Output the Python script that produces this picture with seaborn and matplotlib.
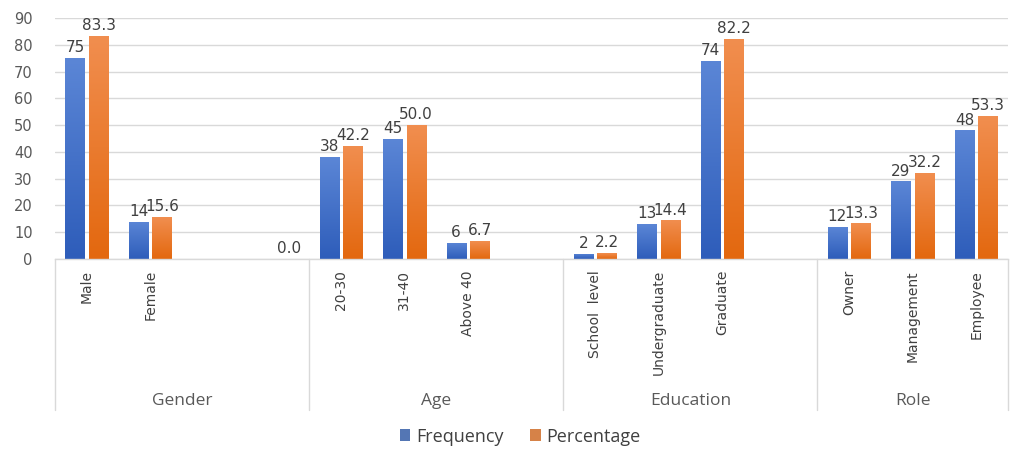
import numpy as np
import pandas as pd
import matplotlib
matplotlib.use("Agg")
import matplotlib.pyplot as plt
import seaborn as sns
from matplotlib.colors import LinearSegmentedColormap
from matplotlib.transforms import blended_transform_factory

# ---------------- data ----------------
slot_keys = ["Male", "Female", "_g1", "_g2",
             "20-30", "31-40", "Above 40", "_a1",
             "School level", "Undergraduate", "Graduate", "_e1",
             "Owner", "Management", "Employee"]
slot_labels = ["Male", "Female", "", "",
               "20-30", "31-40", "Above 40", "",
               "School  level", "Undergraduate", "Graduate", "",
               "Owner", "Management", "Employee"]
frequency = [75, 14, np.nan, np.nan, 38, 45, 6, np.nan, 2, 13, 74, np.nan, 12, 29, 48]
percentage = [83.3, 15.6, np.nan, 0.0, 42.2, 50.0, 6.7, np.nan, 2.2, 14.4, 82.2, np.nan, 13.3, 32.2, 53.3]
groups = ["Gender", "Age", "Education", "Role"]
group_sizes = [4, 4, 4, 3]
series = ["Frequency", "Percentage"]
yticks = [0, 10, 20, 30, 40, 50, 60, 70, 80, 90]

colors = {"Frequency": "#4472C4", "Percentage": "#ED7D31"}
grad_colors = {"Frequency": ("#2E5DBA", "#5B86D6"), "Percentage": ("#E3680F", "#F18E4F")}

df = pd.DataFrame({
    "slot": slot_keys * 2,
    "series": ["Frequency"] * len(slot_keys) + ["Percentage"] * len(slot_keys),
    "value": list(frequency) + list(percentage),
})
df["plotval"] = df["value"].fillna(0)

# ---------------- figure ----------------
sns.set_theme(style="white")
plt.rcParams["font.family"] = ["DejaVu Sans"]

fig = plt.figure(figsize=(10.14, 4.5), dpi=100)
ax = fig.add_axes([55 / 1014, 1 - 259 / 450, (1008 - 55) / 1014, (259 - 18) / 450])

sns.barplot(data=df, x="slot", y="plotval", hue="series", order=slot_keys,
            hue_order=series, palette=colors, width=0.74, gap=0.18,
            linewidth=0, ax=ax, legend=True, errorbar=None)

# gradient fill on bars
for cont, s in zip(ax.containers, series):
    cmap = LinearSegmentedColormap.from_list(s, grad_colors[s])
    grad = np.linspace(0, 1, 100).reshape(-1, 1)
    for bar in cont:
        h = bar.get_height()
        if h > 0:
            x0 = bar.get_x()
            im = ax.imshow(grad, extent=[x0, x0 + bar.get_width(), 0, h], origin="lower",
                           aspect="auto", cmap=cmap, zorder=bar.get_zorder() + 0.1,
                           interpolation="bilinear")
            im.set_clip_path(bar)

# data labels
vals = {"Frequency": frequency, "Percentage": percentage}
for cont, s in zip(ax.containers, series):
    labs = []
    for v in vals[s]:
        if np.isnan(v):
            labs.append("")
        elif s == "Frequency":
            labs.append(f"{int(v)}")
        else:
            labs.append(f"{v:.1f}")
    ax.bar_label(cont, labels=labs, padding=2, fontsize=11, color="#404040", zorder=5)

ax.set_xlim(-0.5, len(slot_keys) - 0.5)
ax.set_ylim(0, 90)
ax.set_yticks(yticks)
ax.set_xticks(range(len(slot_keys)))
ax.set_xticklabels(slot_labels, rotation=90, fontsize=10, color="#404040")
ax.tick_params(axis="y", labelsize=10.5, colors="#595959", length=0, pad=16)
ax.tick_params(axis="x", length=0, pad=8)
ax.set_xlabel("")
ax.set_ylabel("")
ax.grid(axis="y", color="#D9D9D9", linewidth=1)
ax.set_axisbelow(True)
for side in ["left", "right", "top"]:
    ax.spines[side].set_visible(False)
ax.spines["bottom"].set_color("#D9D9D9")
ax.spines["bottom"].set_linewidth(1)

# group separators and labels
trans = blended_transform_factory(ax.transData, ax.transAxes)
bounds = np.concatenate([[0], np.cumsum(group_sizes)]) - 0.5
for b in bounds:
    ax.plot([b, b], [0, -0.627], transform=trans, color="#D9D9D9", lw=1, clip_on=False)
for g, lo, hi in zip(groups, bounds[:-1], bounds[1:]):
    ax.text((lo + hi) / 2, -0.59, g, transform=trans, ha="center", va="center",
            fontsize=12.5, color="#595959", family=["Open Sans", "DejaVu Sans"])

# legend
leg = ax.get_legend()
handles = leg.legend_handles
leg.remove()
fig.legend(handles, series, loc="center", bbox_to_anchor=(0.513, 0.03), ncol=2,
           frameon=False, handlelength=0.6, handleheight=0.6, handletextpad=0.3,
           columnspacing=1.5, prop={"family": ["Open Sans", "DejaVu Sans"], "size": 13},
           labelcolor="#404040")

fig.savefig("out.png", dpi=100)
